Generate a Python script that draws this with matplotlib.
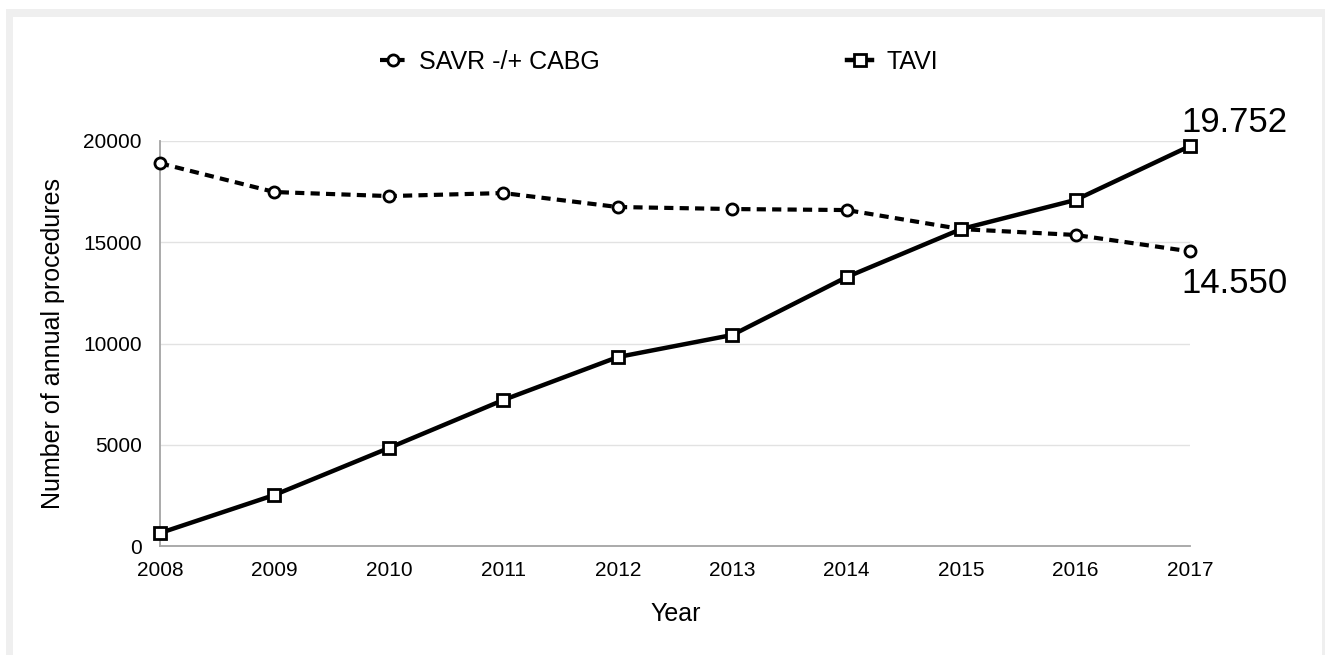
import matplotlib
matplotlib.use("Agg")
import matplotlib.pyplot as plt
from matplotlib.patches import Rectangle

plt.rcParams['font.family'] = ['Liberation Sans', 'DejaVu Sans']

years = [2008, 2009, 2010, 2011, 2012, 2013, 2014, 2015, 2016, 2017]
savr = [18900, 17480, 17280, 17430, 16740, 16640, 16590, 15650, 15360, 14550]
tavi = [640, 2520, 4840, 7210, 9330, 10420, 13280, 15650, 17090, 19752]
yticks = [0, 5000, 10000, 15000, 20000]

W, H = 1325, 655
fig = plt.figure(figsize=(W / 100, H / 100), dpi=100)

# light grey frame round the white panel (top, left, right bands)
frame = '#efefef'
for x0, y0, w, h in [(6, 9, W - 6, 8), (6, 9, 7, H - 9), (1322, 9, 3, H - 9)]:
    fig.patches.append(Rectangle((x0 / W, 1 - (y0 + h) / H), w / W, h / H,
                                 transform=fig.transFigure, color=frame, lw=0, zorder=0))

ax = fig.add_axes([160 / W, 1 - 546 / H, 1030 / W, 405 / H])
ax.patch.set_alpha(0)

ax.plot(years, savr, color='black', linestyle=(0, (2.2, 1.5)), linewidth=3,
        marker='o', markersize=8, markerfacecolor='white', markeredgewidth=2,
        clip_on=False, zorder=3, label='SAVR -/+ CABG')
ax.plot(years, tavi, color='black', linestyle='-', linewidth=3.2,
        marker='s', markersize=9, markerfacecolor='white', markeredgewidth=2,
        clip_on=False, zorder=4, label='TAVI')

ax.set_xlim(years[0], years[-1])
ax.set_ylim(0, 20000)
ax.set_xticks(years)
ax.set_yticks(yticks)
ax.tick_params(axis='x', length=0, labelsize=15, pad=11)
ax.tick_params(axis='y', length=0, labelsize=15, pad=13)
ax.grid(axis='y', color='#e2e2e2', linewidth=1)
ax.set_axisbelow(True)
for s in ['top', 'right']:
    ax.spines[s].set_visible(False)
for s in ['left', 'bottom']:
    ax.spines[s].set_color('#a4a4a4')
    ax.spines[s].set_linewidth(1.3)

# label positions in pixels, turned into axes fractions
ax.set_xlabel('Year', fontsize=18)
ax.xaxis.set_label_coords((676 - 160) / 1030, -(602 - 546) / 405)
ax.set_ylabel('Number of annual procedures', fontsize=18)
ax.yaxis.set_label_coords(-(160 - 65) / 1030, 0.5)

ax.annotate('19.752', (years[-1], tavi[-1]), xytext=(-6, 10), textcoords='offset points',
            fontsize=25, ha='left', va='baseline')
ax.annotate('14.550', (years[-1], savr[-1]), xytext=(-6, -11), textcoords='offset points',
            fontsize=25, ha='left', va='top')

fig.legend(loc='center left', bbox_to_anchor=(380 / W, 1 - 62 / H), ncol=2, frameon=False,
           fontsize=18, borderpad=0, borderaxespad=0, columnspacing=9.9,
           handlelength=1, handletextpad=0.56)

fig.savefig('out.png', dpi=100, facecolor='white')
